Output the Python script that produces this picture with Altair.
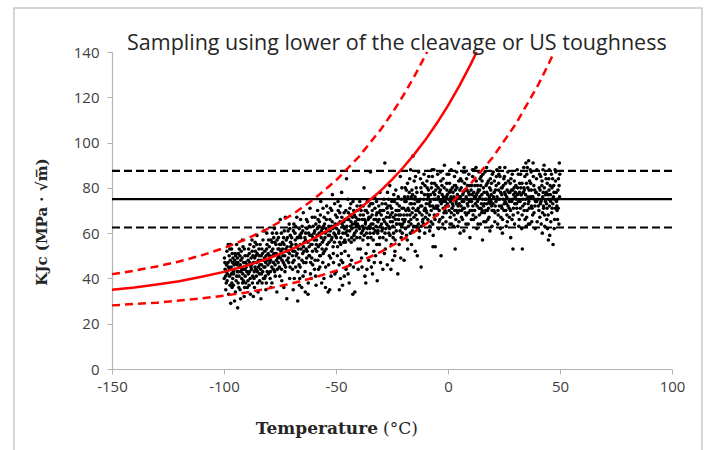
import altair as alt
import pandas as pd

# ---------------- data ----------------
x_ticks = [-150, -100, -50, 0, 50, 100]
y_ticks = [0, 20, 40, 60, 80, 100, 120, 140]

# horizontal reference lines (upper-shelf mean and bounds)
hline_levels = [87.5, 75.0, 62.5]
hline_styles = ["dash", "solid", "dash"]

# master curve (solid) and bounds (dashed)
median_T = [-150, -140, -130, -120, -110, -100, -90, -80, -70, -60, -50, -40, -30, -25, -20, -15, -10, -5, 0, 5, 10, 12.8]
median_K = [35.0, 36.0, 37.3, 38.8, 40.7, 42.9, 45.6, 48.9, 52.8, 57.6, 63.4, 70.3, 78.8, 83.6, 89.0, 94.9, 101.3, 108.5, 116.3, 124.9, 134.3, 140.0]
upper_T = [-150, -140, -130, -120, -110, -100, -90, -80, -70, -60, -50, -40, -30, -25, -20, -15, -9.3]
upper_K = [41.9, 43.4, 45.3, 47.5, 50.2, 53.4, 57.4, 62.2, 67.9, 74.9, 83.3, 93.5, 105.8, 112.9, 120.7, 129.3, 140.0]
lower_T = [-150, -140, -130, -120, -110, -100, -90, -80, -70, -60, -50, -40, -30, -20, -10, 0, 10, 20, 30, 40, 45, 47.4]
lower_K = [28.1, 28.7, 29.3, 30.2, 31.2, 32.4, 33.8, 35.6, 37.7, 40.3, 43.4, 47.2, 51.7, 57.3, 63.9, 72.0, 81.7, 93.5, 107.8, 125.0, 134.9, 140.0]

# scatter samples (temperature, KJc), grouped by 10 degC band
pts_m100 = [(-99.5,44),(-99,38),(-98.7,52),(-98.2,47),(-97.9,33),(-97.5,41),(-97.1,55),(-96.8,45),(-96.4,36),(-96,49),(-95.7,42),(-95.3,30),(-95,51),(-94.6,39),(-94.2,46),(-93.9,27),(-93.5,43),(-93.2,53),(-92.8,35),(-92.5,48),(-92.1,40),(-91.8,57),(-91.4,44),(-91,32),(-90.6,50),(-90.3,38),(-99.8,49),(-99.2,35),(-98.5,42),(-97.7,50),(-97.3,37),(-96.6,53),(-96.1,40),(-95.5,46),(-94.9,34),(-94.4,55),(-93.7,38),(-93.1,45),(-92.6,31),(-92.3,52),(-91.6,42),(-91.2,47),(-90.8,36),(-90.1,45),(-98,45),(-95.9,43),(-94,49),(-92,44),(-90.5,41),(-97,29),(-93.3,41),(-99.3,41),(-96.2,47),(-91.5,54),(-94.7,47),
            (-99.6,47),(-99.1,43),(-98.6,39),(-98.1,55),(-97.6,44),(-97.2,48),(-96.7,42),(-96.3,51),(-95.8,37),(-95.4,44),(-94.8,50),(-94.3,41),(-93.8,47),(-93.4,36),(-92.9,50),(-92.4,43),(-91.9,49),(-91.3,39),(-90.9,53),(-90.4,47),(-99.9,40),(-98.9,46),(-97.4,53),(-96.5,38),(-95.2,48),(-94.1,43),(-92.7,46),(-91.7,38),(-90.7,44),(-93.6,51)]
pts_m90 = [(-89.7,46),(-89.3,39),(-89,53),(-88.6,43),(-88.2,33),(-87.9,49),(-87.5,57),(-87.2,41),(-86.8,47),(-86.4,36),(-86,52),(-85.7,44),(-85.3,59),(-85,38),(-84.6,48),(-84.2,42),(-83.9,55),(-83.5,31),(-83.2,46),(-82.8,51),(-82.4,40),(-82.1,61),(-81.7,45),(-81.3,35),(-81,53),(-80.6,48),(-80.2,42),(-89.5,50),(-88.8,37),(-88,45),(-87.4,52),(-86.6,40),(-86.1,56),(-85.5,47),(-84.8,34),(-84.4,53),(-83.7,44),(-83,38),(-82.6,57),(-82,49),(-81.5,41),(-80.8,55),(-80.4,46),(-89.1,42),(-87.7,44),(-86.3,49),(-85.1,43),(-83.4,50),(-82.2,45),(-81.1,38),(-84,46),(-88.4,55),(-86.9,32),(-80.9,60),(-85.8,50),
           (-89.8,43),(-89.2,48),(-88.7,51),(-88.3,40),(-87.8,46),(-87.3,38),(-86.7,54),(-86.2,45),(-85.6,41),(-85.2,51),(-84.7,45),(-84.1,39),(-83.6,48),(-83.1,53),(-82.7,43),(-82.3,48),(-81.8,52),(-81.4,47),(-80.7,43),(-80.3,51),(-89.6,36),(-88.5,47),(-87.1,50),(-86.5,43),(-85.4,55),(-84.3,50),(-83.3,42),(-81.9,40),(-81.2,50),(-80.1,57)]
pts_m80 = [(-79.7,50),(-79.3,43),(-79,57),(-78.6,38),(-78.2,53),(-77.9,47),(-77.5,62),(-77.1,41),(-76.8,55),(-76.4,34),(-76,49),(-75.7,58),(-75.3,45),(-74.9,66),(-74.6,52),(-74.2,39),(-73.8,56),(-73.5,47),(-73.1,61),(-72.8,43),(-72.4,53),(-72,31),(-71.7,58),(-71.3,49),(-70.9,64),(-70.5,45),(-70.2,54),(-79.5,47),(-78.8,52),(-78,44),(-77.3,56),(-76.6,48),(-75.9,53),(-75.1,41),(-74.4,60),(-73.7,50),(-73,46),(-72.2,57),(-71.5,52),(-70.7,40),(-79.1,36),(-77.7,51),(-76.2,44),(-74.7,55),(-73.3,36),(-71.9,48),(-70.4,59),(-75.5,50),(-78.4,60),(-72.6,67),
           (-79.8,54),(-79.2,48),(-78.7,45),(-78.3,50),(-77.8,58),(-77.2,46),(-76.7,51),(-76.3,57),(-75.8,47),(-75.2,55),(-74.8,49),(-74.3,44),(-73.9,53),(-73.4,58),(-72.9,50),(-72.5,45),(-71.8,54),(-71.4,61),(-70.8,51),(-70.3,56),(-79.4,40),(-78.5,56),(-77.4,43),(-76.5,60),(-75.4,53),(-74.1,48),(-73.2,55),(-72.1,52),(-71.1,47),(-70.6,62)]
pts_m70 = [(-69.7,55),(-69.3,47),(-69,61),(-68.6,40),(-68.2,57),(-67.8,50),(-67.5,67),(-67.1,30),(-66.8,53),(-66.4,62),(-66,45),(-65.7,58),(-65.3,36),(-64.9,51),(-64.6,69),(-64.2,56),(-63.8,43),(-63.5,60),(-63.1,49),(-62.7,65),(-62.4,38),(-62,54),(-61.6,71),(-61.3,47),(-60.9,59),(-60.5,52),(-60.2,63),(-69.5,50),(-68.8,64),(-68,45),(-67.3,58),(-66.6,49),(-65.9,55),(-65.1,63),(-64.4,47),(-63.6,57),(-62.9,52),(-62.2,60),(-61.4,42),(-60.7,55),(-69.1,35),(-67.6,54),(-66.2,40),(-64.7,41),(-63.2,66),(-61.8,50),(-60.4,46),(-65.5,60),(-68.4,52),(-62.5,33),
           (-69.8,58),(-69.2,52),(-68.7,48),(-68.3,60),(-67.9,55),(-67.4,51),(-66.9,58),(-66.5,46),(-66.1,59),(-65.6,53),(-65.2,48),(-64.8,61),(-64.3,52),(-63.9,58),(-63.4,47),(-63,62),(-62.6,56),(-62.1,50),(-61.7,59),(-61.2,55),(-60.8,49),(-60.3,58),(-69.4,44),(-68.1,63),(-67,43),(-65.8,66),(-64.5,54),(-63.3,53),(-61.9,63),(-60.6,67),
           (-66.3,37),(-63.7,34),(-61.1,40)]
pts_m60 = [(-59.7,57),(-59.3,48),(-59,64),(-58.6,52),(-58.2,70),(-57.8,44),(-57.5,60),(-57.1,55),(-56.8,74),(-56.4,38),(-56,62),(-55.7,51),(-55.3,67),(-54.9,58),(-54.6,45),(-54.2,72),(-53.8,61),(-53.5,34),(-53.1,56),(-52.7,66),(-52.4,49),(-52,63),(-51.6,77),(-51.3,54),(-50.9,60),(-50.5,42),(-50.2,68),(-59.5,61),(-58.8,55),(-58,66),(-57.3,50),(-56.6,58),(-55.9,47),(-55.1,64),(-54.4,53),(-53.6,69),(-52.9,59),(-52.2,41),(-51.4,62),(-50.7,56),(-59.1,41),(-57.6,63),(-56.2,53),(-54.7,36),(-53.2,63),(-51.8,58),(-50.4,64),(-55.5,57),(-58.4,59),(-52.5,71),
           (-59.8,60),(-59.2,53),(-58.7,57),(-58.3,62),(-57.9,54),(-57.4,65),(-56.9,50),(-56.5,61),(-56.1,56),(-55.6,63),(-55.2,52),(-54.8,60),(-54.3,66),(-53.9,55),(-53.4,59),(-53,50),(-52.6,61),(-52.1,57),(-51.7,65),(-51.2,51),(-50.8,63),(-50.3,59),(-59.4,67),(-58.1,48),(-57,68),(-55.8,71),(-54.5,62),(-53.3,46),(-51.9,70),(-50.6,73),
           (-58.9,37),(-57.2,45),(-55.4,40),(-52.8,35),(-51.1,47),(-59.6,44)]
pts_m50 = [(-49.7,62),(-49.3,54),(-49,70),(-48.6,46),(-48.2,65),(-47.8,58),(-47.5,78),(-47.1,37),(-46.8,63),(-46.4,69),(-46,52),(-45.7,60),(-45.3,84),(-44.9,66),(-44.6,42),(-44.2,57),(-43.8,71),(-43.5,63),(-43.1,48),(-42.7,67),(-42.4,74),(-42,59),(-41.6,34),(-41.3,65),(-40.9,61),(-40.5,70),(-40.2,53),(-49.5,67),(-48.8,60),(-48,40),(-47.3,64),(-46.6,56),(-45.9,66),(-45.1,61),(-44.4,50),(-43.6,68),(-42.9,62),(-42.2,45),(-41.4,64),(-40.7,58),(-49.1,74),(-47.6,51),(-46.2,62),(-44.7,75),(-43.2,56),(-41.8,68),(-40.4,64),(-45.5,44),(-48.4,56),
           (-49.8,58),(-49.2,64),(-48.7,61),(-48.3,69),(-47.9,55),(-47.4,67),(-46.9,60),(-46.5,65),(-46.1,57),(-45.6,70),(-45.2,63),(-44.8,59),(-44.3,66),(-43.9,61),(-43.4,73),(-43,58),(-42.6,64),(-42.1,70),(-41.7,60),(-41.2,67),(-40.8,63),(-40.3,66),(-49.4,50),(-48.1,72),(-47,47),(-45.8,56),(-44.5,69),(-43.3,65),(-41.9,57),(-40.6,72),
           (-49.9,43),(-48.5,35),(-46.3,41),(-44.1,38),(-43.7,46),(-42.5,33),(-40.1,44),(-47.7,48)]
pts_m40 = [(-39.7,66),(-39.3,58),(-39,72),(-38.6,49),(-38.2,63),(-37.8,68),(-37.5,80),(-37.1,41),(-36.8,65),(-36.4,60),(-36,74),(-35.7,55),(-35.3,67),(-34.9,62),(-34.6,87),(-34.2,45),(-33.8,70),(-33.5,64),(-33.1,52),(-32.7,76),(-32.4,61),(-32,68),(-31.6,39),(-31.3,65),(-30.9,72),(-30.5,58),(-30.2,63),(-39.5,62),(-38.8,70),(-38,57),(-37.3,66),(-36.6,51),(-35.9,69),(-35.1,63),(-34.4,58),(-33.6,73),(-32.9,47),(-32.2,66),(-31.4,60),(-30.7,69),(-39.1,53),(-37.6,62),(-36.2,44),(-34.7,67),(-33.2,60),(-31.8,55),(-30.4,78),
           (-39.8,63),(-39.2,68),(-38.7,60),(-38.3,66),(-37.9,72),(-37.4,59),(-36.9,64),(-36.5,70),(-36.1,62),(-35.6,66),(-35.2,72),(-34.8,60),(-34.3,64),(-33.9,68),(-33.4,57),(-33,66),(-32.6,71),(-32.1,63),(-31.7,69),(-31.2,61),(-30.8,66),(-30.3,70),(-39.4,74),(-38.1,61),(-37,70),(-35.8,58),(-34.5,73),(-33.3,62),(-31.9,74),(-30.6,55),
           (-38.4,45),(-36.7,38),(-35.4,48),(-33.7,42),(-32.3,50),(-30.1,47)]
pts_m30 = [(-29.7,64),(-29.3,70),(-29,58),(-28.6,75),(-28.2,91),(-27.8,62),(-27.5,67),(-27.1,46),(-26.8,72),(-26.4,60),(-26,81),(-25.7,65),(-25.3,55),(-24.9,69),(-24.6,63),(-24.2,77),(-23.8,50),(-23.5,66),(-23.1,61),(-22.7,73),(-22.4,42),(-22,68),(-21.6,64),(-21.3,85),(-20.9,58),(-20.5,71),(-20.2,66),(-29.5,61),(-28.8,66),(-28,53),(-27.3,71),(-26.6,63),(-25.9,59),(-25.1,74),(-24.4,67),(-23.6,57),(-22.9,64),(-22.2,76),(-21.4,61),(-20.7,63),(-29.1,44),(-27.6,57),(-26.2,67),(-24.7,48),(-23.2,70),(-21.8,55),(-20.4,60),
           (-29.8,68),(-29.2,62),(-28.7,70),(-28.3,65),(-27.9,73),(-27.4,64),(-26.9,69),(-26.5,75),(-26.1,62),(-25.6,68),(-25.2,71),(-24.8,65),(-24.3,60),(-23.9,74),(-23.4,68),(-23,64),(-22.6,70),(-22.1,66),(-21.7,72),(-21.2,68),(-20.8,75),(-20.3,64),(-29.4,73),(-28.1,60),(-27,78),(-25.8,72),(-24.5,58),(-23.3,79),(-21.9,70),(-20.6,80),
           (-28.4,51),(-25.5,44),(-23.7,52),(-21.1,49)]
pts_m20 = [(-19.7,68),(-19.3,74),(-19,62),(-18.6,79),(-18.2,57),(-17.8,71),(-17.5,65),(-17.1,84),(-16.8,60),(-16.4,76),(-16,69),(-15.7,94),(-15.3,63),(-14.9,73),(-14.6,52),(-14.2,80),(-13.8,66),(-13.5,70),(-13.1,87),(-12.7,61),(-12.4,75),(-12,45),(-11.6,68),(-11.3,82),(-10.9,64),(-10.5,77),(-10.2,71),(-19.5,65),(-18.8,70),(-18,53),(-17.3,78),(-16.6,66),(-15.9,61),(-15.1,83),(-14.4,68),(-13.6,74),(-12.9,58),(-12.2,72),(-11.4,65),(-10.7,86),(-19.1,80),(-17.6,63),(-16.2,73),(-14.7,76),(-13.2,64),(-11.8,78),(-10.4,60),
           (-19.8,71),(-19.2,66),(-18.7,74),(-18.3,68),(-17.9,76),(-17.4,70),(-16.9,73),(-16.5,64),(-16.1,79),(-15.6,71),(-15.2,67),(-14.8,75),(-14.3,70),(-13.9,78),(-13.4,62),(-13,74),(-12.6,69),(-12.1,80),(-11.7,72),(-11.2,66),(-10.8,75),(-10.3,81),(-19.4,76),(-18.1,82),(-17,68),(-15.8,77),(-14.5,85),(-13.3,71),(-11.9,63),(-10.6,70),(-18.5,59),(-16.7,88),(-14.1,63),(-12.3,84),(-10.1,67),
           (-19.6,48),(-16.3,55),(-13.7,50)]
pts_m10 = [(-9.7,73),(-9.3,80),(-9,66),(-8.6,85),(-8.2,61),(-7.8,77),(-7.5,70),(-7.1,88),(-6.8,64),(-6.4,75),(-6,82),(-5.7,54),(-5.3,72),(-4.9,68),(-4.6,86),(-4.2,62),(-3.8,78),(-3.5,74),(-3.1,50),(-2.7,81),(-2.4,67),(-2,76),(-1.6,90),(-1.3,70),(-0.9,65),(-0.5,79),(-0.2,73),(-9.5,69),(-8.8,76),(-8,72),(-7.3,82),(-6.6,59),(-5.9,77),(-5.1,71),(-4.4,80),(-3.6,66),(-2.9,74),(-2.2,84),(-1.4,62),(-0.7,76),(-9.1,77),(-7.6,65),(-6.2,71),(-4.7,75),(-3.2,83),(-1.8,69),(-0.4,86),(-5.5,79),(-6.7,54),
           (-9.8,70),(-9.2,75),(-8.7,79),(-8.3,68),(-7.9,74),(-7.4,80),(-6.9,72),(-6.5,78),(-6.1,68),(-5.6,75),(-5.2,81),(-4.8,71),(-4.3,76),(-3.9,70),(-3.4,79),(-3,73),(-2.6,77),(-2.1,71),(-1.7,80),(-1.2,74),(-0.8,69),(-0.3,77),(-9.4,83),(-8.1,63),(-7,85),(-5.8,66),(-4.5,72),(-3.3,87),(-1.9,74),(-0.6,82),(-8.5,73),(-6.3,88),(-4,65),(-2.3,64),(-1,72)]
pts_p0 = [(0.3,75),(0.7,82),(1,67),(1.4,88),(1.8,71),(2.2,78),(2.5,63),(2.9,85),(3.2,53),(3.6,74),(4,80),(4.3,69),(4.7,91),(5.1,76),(5.4,60),(5.8,72),(6.2,83),(6.5,66),(6.9,78),(7.3,71),(7.6,87),(8,64),(8.4,75),(8.7,81),(9.1,69),(9.5,77),(9.8,58),(0.5,70),(1.2,79),(2,73),(2.7,68),(3.4,81),(4.1,76),(4.9,65),(5.6,84),(6.3,74),(7.1,61),(7.8,79),(8.6,73),(9.3,86),(0.9,64),(2.4,75),(3.8,70),(5.3,79),(6.8,87),(8.2,68),(9.6,74),
          (0.2,72),(0.6,78),(1.1,74),(1.5,69),(1.9,80),(2.3,72),(2.6,76),(3,70),(3.3,79),(3.7,73),(4.2,77),(4.5,72),(4.8,83),(5.2,70),(5.5,76),(5.9,80),(6.1,70),(6.6,77),(7,74),(7.4,82),(7.7,69),(8.1,76),(8.5,79),(8.9,72),(9.2,78),(9.7,81),(0.4,86),(1.6,64),(2.8,81),(3.9,87),(4.4,63),(5,73),(6,67),(6.7,71),(7.2,89),(8.3,84),(9,64),(9.9,70),(3.5,66),(1.3,76)]
pts_p10 = [(10.3,79),(10.7,70),(11,85),(11.4,66),(11.8,76),(12.2,73),(12.5,89),(12.9,62),(13.2,81),(13.6,75),(14,68),(14.3,84),(14.7,71),(15.1,77),(15.4,57),(15.8,80),(16.2,73),(16.5,87),(16.9,65),(17.3,78),(17.6,70),(18,83),(18.4,74),(18.7,61),(19.1,79),(19.5,72),(19.8,86),(10.5,74),(11.2,68),(12,81),(12.7,77),(13.4,64),(14.1,79),(14.9,73),(15.6,86),(16.3,69),(17.1,75),(17.8,66),(18.6,80),(19.3,77),(10.9,88),(13,72),(15.3,70),(17.5,82),(19.6,63),
           (10.1,75),(10.6,81),(11.1,72),(11.5,78),(11.9,70),(12.3,76),(12.6,83),(13.1,74),(13.5,79),(13.9,71),(14.2,76),(14.6,81),(15,69),(15.5,75),(15.9,72),(16.1,78),(16.6,75),(17,81),(17.4,73),(17.7,77),(18.1,71),(18.5,76),(18.9,84),(19.2,74),(19.7,70),(10.4,66),(11.6,88),(12.4,67),(13.8,87),(14.5,64),(15.2,83),(16.8,70),(17.2,89),(18.3,67),(19.4,82),(10.8,77),(13.3,78),(14.8,85),(16,65),(18.8,73)]
pts_p20 = [(20.3,76),(20.7,83),(21,69),(21.4,74),(21.8,88),(22.2,64),(22.5,79),(22.9,72),(23.2,85),(23.6,67),(24,77),(24.3,60),(24.7,81),(25.1,73),(25.4,89),(25.8,70),(26.2,76),(26.5,65),(26.9,83),(27.3,71),(27.6,78),(28,58),(28.4,74),(28.7,86),(29.1,68),(29.5,80),(29.8,73),(20.5,70),(21.2,79),(22,75),(22.7,86),(23.4,62),(24.1,71),(24.9,84),(25.6,77),(26.3,68),(27.1,75),(27.8,82),(28.6,66),(29.3,77),(29,53),(30,76),
           (20.1,73),(20.6,78),(21.1,72),(21.5,81),(21.9,76),(22.3,70),(22.6,82),(23,75),(23.5,78),(23.9,72),(24.2,80),(24.6,75),(25,70),(25.3,78),(25.7,82),(26.1,73),(26.4,79),(26.8,72),(27.2,78),(27.5,74),(27.9,70),(28.3,79),(28.8,75),(29.2,71),(29.6,83),(20.9,65),(21.6,85),(22.4,68),(23.1,89),(23.8,80),(24.4,66),(25.2,85),(26,63),(26.7,87),(27.4,67),(28.1,84),(28.9,79),(29.7,64),(20.2,87),(25.5,74)]
pts_p30 = [(30.3,81),(30.7,71),(31,77),(31.4,86),(31.8,66),(32.2,74),(32.5,80),(32.9,62),(33.2,53),(33.6,78),(34,70),(34.3,85),(34.7,75),(35.1,67),(35.4,89),(35.8,73),(36.2,79),(36.5,64),(36.9,82),(37.3,72),(37.6,76),(38,91),(38.4,69),(38.7,79),(39.1,74),(39.5,84),(39.8,65),(30.5,75),(31.2,69),(32,82),(32.7,77),(33.4,72),(34.1,79),(34.9,63),(35.6,80),(36.3,71),(37.1,87),(37.8,68),(38.6,75),(39.3,78),
           (30.1,78),(30.6,73),(31.1,80),(31.5,74),(31.9,78),(32.3,71),(32.6,77),(33,82),(33.5,75),(33.9,80),(34.2,73),(34.6,77),(35,82),(35.3,70),(35.7,76),(36.1,74),(36.4,83),(36.8,76),(37.2,79),(37.5,71),(37.9,76),(38.3,81),(38.8,72),(39.2,78),(39.6,74),(30.9,88),(31.6,63),(32.4,86),(33.1,68),(33.8,89),(34.4,66),(35.2,86),(35.9,64),(36.7,88),(37.4,65),(38.1,85),(38.9,62),(39.7,88),(34.8,91),(36,92)]
pts_p40 = [(40.3,72),(40.7,80),(41,67),(41.4,85),(41.8,75),(42.2,69),(42.5,78),(42.9,90),(43.2,63),(43.6,77),(44,73),(44.3,82),(44.7,68),(45.1,79),(45.4,59),(45.8,74),(46.2,86),(46.5,71),(46.9,55),(47.3,78),(47.6,66),(48,83),(48.4,74),(48.7,70),(49.1,79),(49.5,64),(49.8,76),(40.5,77),(41.2,73),(42,83),(42.7,71),(43.4,86),(44.1,66),(44.9,75),(45.6,81),(46.3,69),(47.1,76),(47.8,88),(48.6,72),(49.3,84),(49.7,91),
           (40.1,75),(40.6,70),(41.1,79),(41.5,74),(41.9,81),(42.3,76),(42.6,72),(43,80),(43.5,74),(43.9,78),(44.2,71),(44.6,77),(45,84),(45.3,72),(45.7,77),(46.1,75),(46.4,80),(46.8,73),(47.2,81),(47.5,75),(47.9,71),(48.3,78),(48.8,75),(49.2,71),(49.6,81),(40.9,86),(41.6,64),(42.4,88),(43.1,68),(43.8,84),(44.4,62),(45.2,88),(45.9,65),(46.7,84),(47.4,62),(48.1,87),(48.9,66),(49.9,86),(44.8,57),(42.1,60)]

# ---------------- tables ----------------
all_pts = (pts_m100 + pts_m90 + pts_m80 + pts_m70 + pts_m60 + pts_m50 + pts_m40 +
           pts_m30 + pts_m20 + pts_m10 + pts_p0 + pts_p10 + pts_p20 + pts_p30 + pts_p40)
scatter_df = pd.DataFrame(all_pts, columns=["T", "K"])

hl_rows = []
for lvl, sty in zip(hline_levels, hline_styles):
    for xv in (x_ticks[0], x_ticks[-1]):
        hl_rows.append({"T": xv, "K": lvl, "line": f"{sty}{lvl}"})
hl_df = pd.DataFrame(hl_rows)
hl_solid = hl_df[hl_df["line"].str.startswith("solid")]
hl_dash = hl_df[hl_df["line"].str.startswith("dash")]

median_df = pd.DataFrame({"T": median_T, "K": median_K})
bounds_df = pd.concat([
    pd.DataFrame({"T": upper_T, "K": upper_K, "curve": "upper"}),
    pd.DataFrame({"T": lower_T, "K": lower_K, "curve": "lower"}),
])

# ---------------- chart ----------------
xscale = alt.Scale(domain=[-150, 100], nice=False, zero=False)
yscale = alt.Scale(domain=[0, 140], nice=False)

xenc = alt.X("T:Q", scale=xscale,
             axis=alt.Axis(values=x_ticks, title=None, grid=False,
                           labelExpr="'' + datum.value",
                           domainColor="#b3b3b3", tickColor="#b3b3b3", tickSize=5,
                           labelPadding=5, labelFont="Open Sans", labelFontSize=15,
                           labelColor="#404040", domainWidth=1.2, labelFlush=False))
yenc = alt.Y("K:Q", scale=yscale,
             axis=alt.Axis(values=y_ticks, title=None, grid=False,
                           domainColor="#b3b3b3", tickColor="#b3b3b3", tickSize=5,
                           labelPadding=8, labelFont="Open Sans", labelFontSize=15,
                           labelColor="#404040", domainWidth=1.2))

pts = alt.Chart(scatter_df).mark_circle(size=13, color="black", opacity=1).encode(x=xenc, y=yenc)

hsolid = alt.Chart(hl_solid).mark_line(color="black", strokeWidth=2.2).encode(
    x="T:Q", y="K:Q", detail="line:N")
hdash = alt.Chart(hl_dash).mark_line(color="black", strokeWidth=2.2, strokeDash=[8, 4]).encode(
    x="T:Q", y="K:Q", detail="line:N")

med = alt.Chart(median_df).mark_line(color="#ff0000", strokeWidth=2.5).encode(x="T:Q", y="K:Q")
bnd = alt.Chart(bounds_df).mark_line(color="#ff0000", strokeWidth=2.5, strokeDash=[8, 5]).encode(
    x="T:Q", y="K:Q", detail="curve:N")

frame = alt.Chart(scatter_df.head(1)).mark_rect(
    fill=None, stroke="#c8c8c8", strokeWidth=1.5, clip=False).encode(
    x=alt.value(-98), x2=alt.value(590), y=alt.value(-44), y2=alt.value(420))

title_txt = alt.Chart(scatter_df.head(1)).mark_text(
    text="Sampling using lower of the cleavage or US toughness", align="left",
    baseline="middle", font="Open Sans", fontSize=21.5, color="#262626").encode(
    x=alt.value(15), y=alt.value(-8))

xt1 = alt.Chart(scatter_df.head(1)).mark_text(
    text="Temperature", align="right", baseline="middle", font="DejaVu Serif",
    fontWeight="bold", fontSize=17, color="#262626").encode(x=alt.value(266), y=alt.value(377))
xt2 = alt.Chart(scatter_df.head(1)).mark_text(
    text="(°C)", align="left", baseline="middle", font="DejaVu Serif",
    fontSize=17, color="#262626").encode(x=alt.value(271), y=alt.value(377))
yt = alt.Chart(scatter_df.head(1)).mark_text(
    text="KJc (MPa · √m̅)", align="center", baseline="middle", angle=270,
    font="DejaVu Serif", fontWeight="bold", fontSize=15, color="#262626").encode(
    x=alt.value(-70), y=alt.value(170))

chart = alt.layer(frame, pts, hsolid, hdash, med, bnd, title_txt, xt1, xt2, yt).properties(
    width=560, height=317,
    autosize=alt.AutoSizeParams(type="none"),
    padding={"left": 112, "top": 52, "right": 39, "bottom": 81},
    background="white",
).configure_view(stroke=None)

chart.save("out.html", embed_options={"renderer": "svg", "actions": False})
